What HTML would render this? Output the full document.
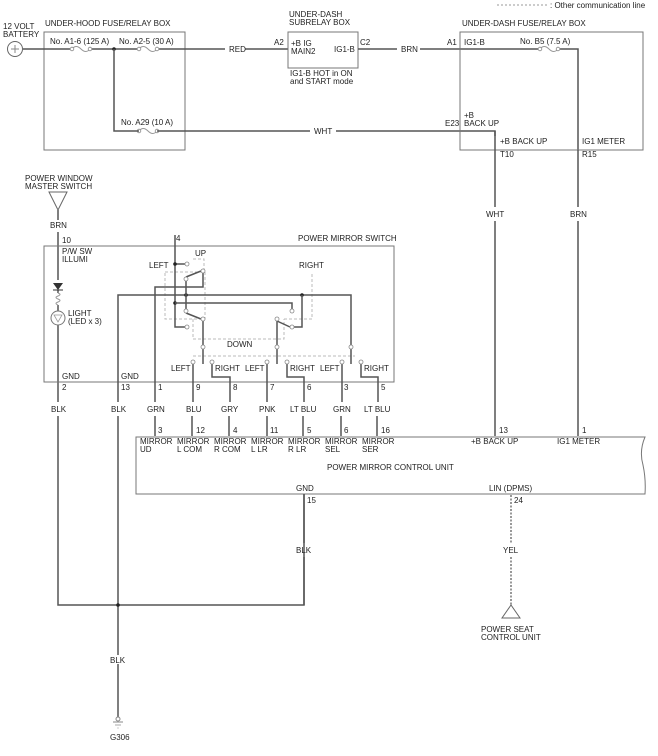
<!DOCTYPE html>
<html><head><meta charset="utf-8"><style>
html,body{margin:0;padding:0;background:#fff;}
svg{display:block;}
text{font-family:"Liberation Sans",Arial,sans-serif;font-size:8px;fill:#222;}
.w{stroke:#555;stroke-width:1.5;fill:none;}
.b{stroke:#777;stroke-width:1;fill:none;}
.d{stroke:#bbb;stroke-width:1;fill:none;stroke-dasharray:3,2;}
.c{fill:#fff;stroke:#888;stroke-width:0.8;}
.j{fill:#222;}
</style></head><body>
<svg width="658" height="756" viewBox="0 0 658 756">
<!-- legend -->
<line x1="497" y1="5" x2="548" y2="5" stroke="#999" stroke-dasharray="2,2"/>
<text x="550" y="8">: Other communication line</text>

<!-- battery -->
<circle cx="15" cy="49" r="7.5" fill="#fff" stroke="#666"/>
<line x1="11" y1="49" x2="19" y2="49" stroke="#888"/><line x1="15" y1="45" x2="15" y2="53" stroke="#888"/>
<text x="3" y="29">12 VOLT</text><text x="3" y="37">BATTERY</text>

<!-- under-hood box -->
<rect class="b" x="44" y="32" width="141" height="118"/>
<text x="45" y="26">UNDER-HOOD FUSE/RELAY BOX</text>
<text x="50" y="44">No. A1-6 (125 A)</text>
<text x="119" y="44">No. A2-5 (30 A)</text>
<text x="121" y="125">No. A29 (10 A)</text>
<path class="w" d="M23 49H72M90 49H139M157 49H225M245 49H288"/>
<path d="M72 49q4-5 9 0t9 0M139 49q4-5 9 0t9 0M139 131q4-5 9 0t9 0M540 49q4-5 9 0t9 0" stroke="#999" fill="none"/>
<circle class="c" cx="72" cy="49" r="1.8"/><circle class="c" cx="90" cy="49" r="1.8"/>
<circle class="c" cx="139" cy="49" r="1.8"/><circle class="c" cx="157" cy="49" r="1.8"/>
<circle class="c" cx="139" cy="131" r="1.8"/><circle class="c" cx="157" cy="131" r="1.8"/>
<circle class="j" cx="114" cy="49" r="1.8"/>
<path class="w" d="M114 49V131H139M157 131H310M336 131H495V136"/>
<text x="229" y="52">RED</text>
<text x="314" y="134">WHT</text>

<!-- subrelay box -->
<rect class="b" x="288" y="32" width="70" height="36"/>
<text x="289" y="17">UNDER-DASH</text><text x="289" y="25">SUBRELAY BOX</text>
<text x="274" y="45">A2</text>
<text x="291" y="46">+B IG</text><text x="291" y="54">MAIN2</text>
<text x="334" y="52">IG1-B</text>
<text x="360" y="45">C2</text>
<text x="290" y="76">IG1-B HOT in ON</text><text x="290" y="84">and START mode</text>
<path class="w" d="M358 49H397M420 49H540M558 49H578V150"/>
<text x="401" y="52">BRN</text>

<!-- under-dash fuse box -->
<rect class="b" x="460" y="32" width="183" height="118"/>
<text x="462" y="26">UNDER-DASH FUSE/RELAY BOX</text>
<text x="447" y="45">A1</text><text x="464" y="45">IG1-B</text>
<text x="520" y="44">No. B5 (7.5 A)</text>
<circle class="c" cx="540" cy="49" r="1.8"/><circle class="c" cx="558" cy="49" r="1.8"/>
<text x="464" y="118">+B</text><text x="464" y="126">BACK UP</text>
<text x="445" y="126">E23</text>
<text x="500" y="144">+B BACK UP</text><text x="582" y="144">IG1 METER</text>
<text x="500" y="157">T10</text><text x="582" y="157">R15</text>
<path class="w" d="M495 131V207M495 221V436M578 150V207M578 221V436"/>
<text x="486" y="217">WHT</text><text x="570" y="217">BRN</text>

<!-- power window master switch -->
<text x="25" y="181">POWER WINDOW</text><text x="25" y="189">MASTER SWITCH</text>
<path d="M49 192H67L58 210Z" fill="#fff" stroke="#666"/>
<text x="50" y="228">BRN</text>
<path class="w" d="M58 210V220M58 232V280M58 290V293M58 305V311M58 325V402M58 416V605H304V494"/>
<path d="M53 283H63L58 290Z" fill="#333"/><line x1="53" y1="290" x2="63" y2="290" stroke="#333"/>
<path d="M58 293q4 1.5 0 3t0 3t0 3t0 3" stroke="#999" fill="none"/>
<circle cx="58" cy="318" r="7" fill="#fff" stroke="#777"/>
<path d="M54 315H62L58 322Z" fill="none" stroke="#999" stroke-width="0.8"/>
<text x="68" y="316">LIGHT</text><text x="68" y="324">(LED x 3)</text>
<text x="62" y="243">10</text>
<text x="62" y="254">P/W SW</text><text x="62" y="262">ILLUMI</text>

<!-- power mirror switch box -->
<rect class="b" x="44" y="246" width="350" height="136"/>
<text x="298" y="241">POWER MIRROR SWITCH</text>
<text x="176" y="241">4</text>
<text x="149" y="268">LEFT</text><text x="195" y="256">UP</text><text x="299" y="268">RIGHT</text>
<text x="227" y="347">DOWN</text>
<!-- dashed -->
<path class="d" d="M165 272H205V319H165ZM193 259H204V272M193 319V339H284V319M284 319H312V273M193 356H355"/>
<!-- wires inside -->
<path class="w" d="M175 235V327H185M175 264H185"/>
<circle class="j" cx="175" cy="264" r="1.8"/><circle class="j" cx="175" cy="303" r="1.8"/>
<path class="w" d="M203 273V287H155V402M155 416V436"/>
<path class="w" d="M118 402V295H351V345M118 416V720"/>
<circle class="j" cx="186" cy="295" r="1.8"/><circle class="j" cx="302" cy="295" r="1.8"/>
<path class="w" d="M186 281V309M175 303H292V309M302 295V327H294"/>
<path class="w" d="M186 277L201 271M186 313L201 319M277 321L290 327"/>
<path class="w" d="M203 321V345M277 321V345"/>
<circle class="c" cx="187" cy="264" r="2"/><circle class="c" cx="186" cy="279" r="2"/><circle class="c" cx="203" cy="271" r="2"/>
<circle class="c" cx="186" cy="311" r="2"/><circle class="c" cx="203" cy="319" r="2"/><circle class="c" cx="187" cy="327" r="2"/>
<circle class="c" cx="292" cy="311" r="2"/><circle class="c" cx="277" cy="319" r="2"/><circle class="c" cx="292" cy="327" r="2"/>
<!-- lower levers -->
<path class="w" d="M203 349V364M277 349V364M351 349V364"/>
<circle class="c" cx="203" cy="347" r="2"/><circle class="c" cx="277" cy="347" r="2"/><circle class="c" cx="351" cy="347" r="2"/>
<path class="w" d="M193 364V402M212 364V377H230V402M267 364V402M287 364V377H304V402M342 364V402M361 364V377H378V402"/>
<circle class="c" cx="193" cy="362" r="2"/><circle class="c" cx="212" cy="362" r="2"/>
<circle class="c" cx="267" cy="362" r="2"/><circle class="c" cx="287" cy="362" r="2"/>
<circle class="c" cx="342" cy="362" r="2"/><circle class="c" cx="361" cy="362" r="2"/>
<text x="171" y="371">LEFT</text><text x="215" y="371">RIGHT</text>
<text x="245" y="371">LEFT</text><text x="290" y="371">RIGHT</text>
<text x="320" y="371">LEFT</text><text x="364" y="371">RIGHT</text>
<text x="62" y="379">GND</text><text x="121" y="379">GND</text>
<!-- pins -->
<text x="62" y="390">2</text><text x="121" y="390">13</text><text x="158" y="390">1</text><text x="196" y="390">9</text>
<text x="233" y="390">8</text><text x="270" y="390">7</text><text x="307" y="390">6</text><text x="344" y="390">3</text><text x="381" y="390">5</text>
<text x="51" y="412">BLK</text><text x="111" y="412">BLK</text><text x="147" y="412">GRN</text><text x="186" y="412">BLU</text>
<text x="221" y="412">GRY</text><text x="259" y="412">PNK</text><text x="290" y="412">LT BLU</text><text x="333" y="412">GRN</text><text x="364" y="412">LT BLU</text>
<path class="w" d="M192 416V436M229 416V436M267 416V436M303 416V436M341 416V436M377 416V436"/>
<text x="158" y="433">3</text><text x="196" y="433">12</text><text x="233" y="433">4</text><text x="270" y="433">11</text>
<text x="307" y="433">5</text><text x="344" y="433">6</text><text x="381" y="433">16</text>
<text x="499" y="433">13</text><text x="582" y="433">1</text>

<!-- control unit -->
<path d="M136 494V437H645q-6 14 -2 28q3 14 2 29Z" fill="#fff" stroke="#777"/>
<text x="140" y="444">MIRROR</text><text x="140" y="452">UD</text>
<text x="177" y="444">MIRROR</text><text x="177" y="452">L COM</text>
<text x="214" y="444">MIRROR</text><text x="214" y="452">R COM</text>
<text x="251" y="444">MIRROR</text><text x="251" y="452">L LR</text>
<text x="288" y="444">MIRROR</text><text x="288" y="452">R LR</text>
<text x="325" y="444">MIRROR</text><text x="325" y="452">SEL</text>
<text x="362" y="444">MIRROR</text><text x="362" y="452">SER</text>
<text x="471" y="444">+B BACK UP</text><text x="557" y="444">IG1 METER</text>
<text x="327" y="470">POWER MIRROR CONTROL UNIT</text>
<text x="296" y="491">GND</text><text x="489" y="491">LIN (DPMS)</text>
<text x="307" y="503">15</text><text x="514" y="503">24</text>
<path class="w" d="M304 494V543M304 557V605"/>
<text x="296" y="553">BLK</text>
<line x1="511" y1="495" x2="511" y2="543" stroke="#777" stroke-width="1.5" stroke-dasharray="2,1.5"/>
<line x1="511" y1="557" x2="511" y2="605" stroke="#777" stroke-width="1.5" stroke-dasharray="2,1.5"/>
<text x="503" y="553">YEL</text>
<path d="M511 605L502 618H520Z" fill="#fff" stroke="#666"/>
<text x="481" y="632">POWER SEAT</text><text x="481" y="640">CONTROL UNIT</text>

<!-- ground -->
<circle class="j" cx="118" cy="605" r="1.8"/>
<rect x="112" y="655" width="12" height="9" fill="#fff"/>
<text x="110" y="663">BLK</text>
<circle cx="118" cy="719" r="2" fill="#fff" stroke="#888"/>
<line x1="113" y1="722" x2="123" y2="722" stroke="#888"/>
<line x1="115" y1="725" x2="121" y2="725" stroke="#aaa"/>
<line x1="117" y1="728" x2="119" y2="728" stroke="#ccc"/>
<text x="110" y="740">G306</text>
</svg>
</body></html>
